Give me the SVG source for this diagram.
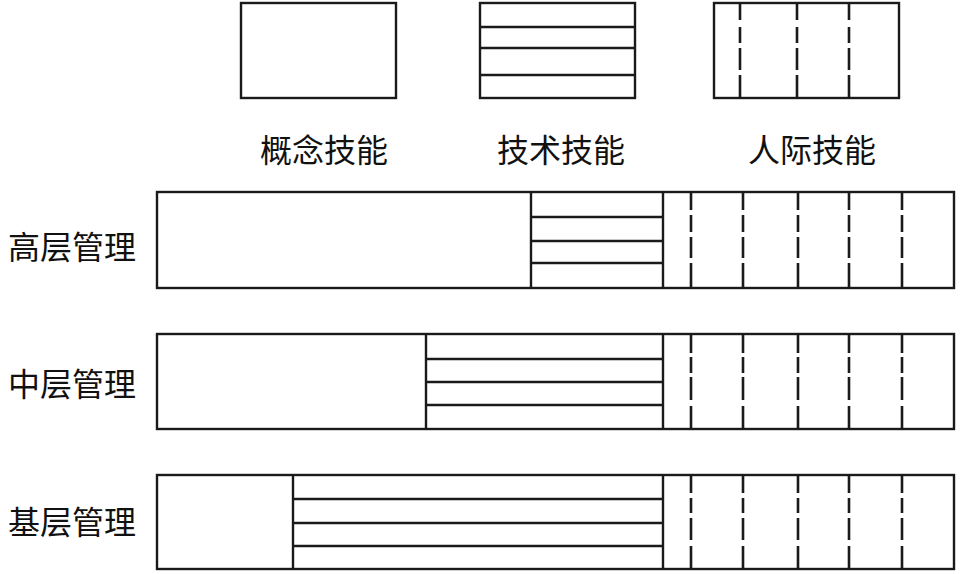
<svg xmlns="http://www.w3.org/2000/svg" width="966" height="574" viewBox="0 0 966 574">
<style>
.b{fill:none;stroke:#1a1a1a;stroke-width:2.4}
.d{fill:none;stroke:#1a1a1a;stroke-width:2.6}
.t{font-family:"Noto Sans CJK SC","Noto Sans",sans-serif;font-size:32px;fill:#111}
</style>
<rect width="966" height="574" fill="#fff"/>
<g id="legend-conceptual">
<rect class="b" x="241" y="3" width="155" height="95"/>
<text class="t" x="260" y="162">概念技能</text>
</g>
<g id="legend-technical">
<rect class="b" x="480" y="3" width="155" height="95"/>
<path class="b" d="M480 27H635M480 48H635M480 75H635"/>
<text class="t" x="497" y="162">技术技能</text>
</g>
<g id="legend-human">
<rect class="b" x="714" y="3" width="185" height="95"/>
<path class="d" d="M740 3V20M740 27V43M740 48V70M740 75V98M797 3V20M797 27V43M797 48V70M797 75V98M849 3V20M849 27V43M849 48V70M849 75V98"/>
<text class="t" x="748" y="162">人际技能</text>
</g>
<g id="top-management">
<text class="t" x="8" y="259">高层管理</text>
<rect class="b" x="157" y="192" width="797" height="96"/>
<path class="b" d="M531 192V288M663 192V288M531 217H663M531 241H663M531 263H663"/>
<path class="d" d="M691 192V210M691 215V232M691 237V258M691 263V288M743 192V210M743 215V232M743 237V258M743 263V288M798 192V210M798 215V232M798 237V258M798 263V288M849 192V210M849 215V232M849 237V258M849 263V288M902 192V210M902 215V232M902 237V258M902 263V288"/>
</g>
<g id="middle-management">
<text class="t" x="8" y="396">中层管理</text>
<rect class="b" x="157" y="334" width="797" height="95"/>
<path class="b" d="M426 334V429M663 334V429M426 359H663M426 382H663M426 405H663"/>
<path class="d" d="M691 334V353M691 357V373M691 377V400M691 406V429M743 334V353M743 357V373M743 377V400M743 406V429M798 334V353M798 357V373M798 377V400M798 406V429M849 334V353M849 357V373M849 377V400M849 406V429M902 334V353M902 357V373M902 377V400M902 406V429"/>
</g>
<g id="base-management">
<text class="t" x="8" y="534">基层管理</text>
<rect class="b" x="157" y="475" width="797" height="94"/>
<path class="b" d="M293 475V569M663 475V569M293 499H663M293 523H663M293 546H663"/>
<path class="d" d="M691 475V493M691 498V513M691 518V540M691 546V569M743 475V493M743 498V513M743 518V540M743 546V569M798 475V493M798 498V513M798 518V540M798 546V569M849 475V493M849 498V513M849 518V540M849 546V569M902 475V493M902 498V513M902 518V540M902 546V569"/>
</g>
<g id="connectors"></g>
</svg>
